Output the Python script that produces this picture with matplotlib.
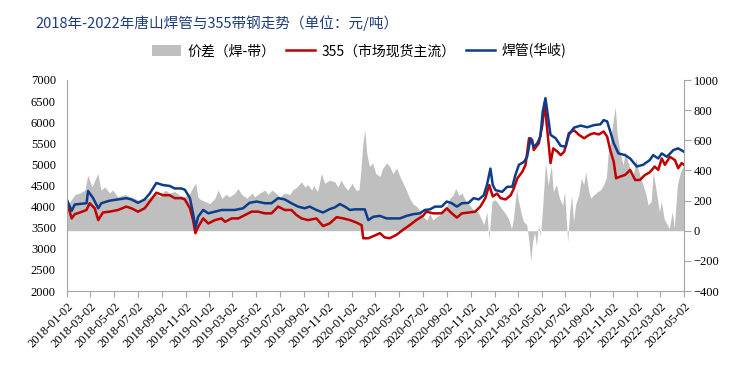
import pandas as pd
import matplotlib
matplotlib.use('Agg')
import matplotlib.pyplot as plt
from matplotlib.lines import Line2D
from matplotlib.patches import Patch

# 焊管(华岐) 价格
blue_dates = ['2018-01-02', '2018-01-14', '2018-01-22', '2018-02-21', '2018-02-25', '2018-03-10', '2018-03-23',
              '2018-03-31', '2018-04-21', '2018-05-13', '2018-06-03', '2018-06-16', '2018-07-03', '2018-07-20',
              '2018-08-02', '2018-08-19', '2018-09-05', '2018-09-22', '2018-10-05', '2018-10-22', '2018-10-31',
              '2018-11-13', '2018-11-21', '2018-11-27', '2018-12-04', '2018-12-17', '2018-12-30', '2019-01-16',
              '2019-02-02', '2019-02-19', '2019-03-08', '2019-03-29', '2019-04-15', '2019-05-03', '2019-05-24',
              '2019-06-10', '2019-06-27', '2019-07-14', '2019-07-31', '2019-08-17', '2019-09-03', '2019-09-16',
              '2019-10-03', '2019-10-20', '2019-11-06', '2019-11-19', '2019-12-02', '2019-12-15', '2019-12-28',
              '2020-01-10', '2020-02-04', '2020-02-13', '2020-02-26', '2020-03-14', '2020-03-31', '2020-04-17',
              '2020-05-04', '2020-05-21', '2020-06-07', '2020-06-24', '2020-07-07', '2020-07-20', '2020-08-02',
              '2020-08-19', '2020-09-01', '2020-09-14', '2020-09-27', '2020-10-10', '2020-10-27', '2020-11-09',
              '2020-11-22', '2020-12-05', '2020-12-13', '2020-12-22', '2020-12-28', '2021-01-04', '2021-01-21',
              '2021-02-03', '2021-02-16', '2021-02-24', '2021-03-05', '2021-03-18', '2021-03-26', '2021-04-04',
              '2021-04-12', '2021-04-21', '2021-04-29', '2021-05-05', '2021-05-12', '2021-05-18', '2021-05-25',
              '2021-06-07', '2021-06-20', '2021-07-03', '2021-07-11', '2021-07-24', '2021-08-10', '2021-08-27',
              '2021-09-13', '2021-09-30', '2021-10-08', '2021-10-17', '2021-10-25', '2021-11-03', '2021-11-15',
              '2021-12-02', '2021-12-15', '2022-01-01', '2022-01-17', '2022-02-03', '2022-02-12', '2022-02-25',
              '2022-03-06', '2022-03-19', '2022-04-05', '2022-04-17', '2022-05-02']
blue_vals = [4160, 3900, 4050, 4080, 4370, 4200, 3960,
             4080, 4140, 4170, 4200, 4170, 4090, 4170,
             4310, 4560, 4510, 4490, 4430, 4430, 4400,
             4200, 3840, 3510, 3760, 3920, 3840, 3880,
             3920, 3920, 3920, 3960, 4090, 4120, 4080,
             4080, 4200, 4170, 4080, 4000, 3960, 4000,
             3920, 3860, 3940, 3980, 4060, 4000, 3920,
             3935, 3935, 3680, 3760, 3780, 3720, 3720,
             3720, 3780, 3820, 3840, 3920, 3935, 4000,
             4000, 4120, 4080, 4000, 4080, 4090, 4200,
             4170, 4270, 4510, 4900, 4510, 4390, 4350,
             4470, 4470, 4750, 4990, 5060, 5180, 5620,
             5420, 5500, 5660, 6250, 6570, 6170, 5700,
             5620, 5440, 5420, 5700, 5870, 5920, 5880,
             5930, 5950, 6050, 6020, 5780, 5500, 5260,
             5220, 5140, 4950, 4990, 5100, 5220, 5140,
             5260, 5180, 5340, 5380, 5300]

# 355（市场现货主流）价格
red_dates = ['2018-01-02', '2018-01-14', '2018-01-22', '2018-02-04', '2018-02-21', '2018-03-01', '2018-03-14',
             '2018-03-23', '2018-04-04', '2018-04-21', '2018-05-13', '2018-06-03', '2018-06-16', '2018-07-03',
             '2018-07-20', '2018-08-02', '2018-08-19', '2018-09-05', '2018-09-22', '2018-10-05', '2018-10-22',
             '2018-10-31', '2018-11-13', '2018-11-21', '2018-11-27', '2018-12-04', '2018-12-17', '2018-12-30',
             '2019-01-16', '2019-02-02', '2019-02-11', '2019-02-28', '2019-03-17', '2019-04-03', '2019-04-20',
             '2019-05-07', '2019-05-24', '2019-06-10', '2019-06-27', '2019-07-14', '2019-07-31', '2019-08-13',
             '2019-08-26', '2019-09-12', '2019-10-03', '2019-10-20', '2019-11-06', '2019-11-24', '2019-12-11',
             '2019-12-28', '2020-01-14', '2020-01-27', '2020-01-31', '2020-02-13', '2020-02-26', '2020-03-14',
             '2020-03-26', '2020-04-08', '2020-04-25', '2020-05-12', '2020-05-29', '2020-06-15', '2020-07-02',
             '2020-07-11', '2020-07-28', '2020-08-19', '2020-09-01', '2020-09-14', '2020-09-27', '2020-10-10',
             '2020-10-27', '2020-11-13', '2020-11-26', '2020-12-09', '2020-12-19', '2020-12-28', '2021-01-08',
             '2021-01-17', '2021-01-30', '2021-02-12', '2021-02-20', '2021-03-01', '2021-03-14', '2021-03-22',
             '2021-03-31', '2021-04-08', '2021-04-12', '2021-04-25', '2021-05-04', '2021-05-10', '2021-05-17',
             '2021-05-25', '2021-06-01', '2021-06-12', '2021-06-20', '2021-06-29', '2021-07-11', '2021-07-24',
             '2021-08-06', '2021-08-19', '2021-09-01', '2021-09-13', '2021-09-26', '2021-10-08', '2021-10-17',
             '2021-10-25', '2021-11-03', '2021-11-09', '2021-11-19', '2021-12-02', '2021-12-15', '2021-12-28',
             '2022-01-09', '2022-01-22', '2022-02-03', '2022-02-16', '2022-02-25', '2022-03-06', '2022-03-14',
             '2022-03-27', '2022-04-09', '2022-04-17', '2022-04-26', '2022-05-02']
red_vals = [4100, 3720, 3820, 3860, 3920, 4080, 3960,
            3680, 3860, 3880, 3920, 4000, 3960, 3880,
            3960, 4120, 4330, 4270, 4270, 4200, 4200,
            4170, 3960, 3680, 3370, 3520, 3720, 3600,
            3680, 3720, 3640, 3720, 3720, 3800, 3880,
            3880, 3840, 3840, 4000, 3920, 3920, 3800,
            3720, 3680, 3720, 3540, 3600, 3750, 3720,
            3680, 3620, 3560, 3250, 3250, 3300, 3370,
            3270, 3250, 3330, 3450, 3560, 3680, 3780,
            3880, 3840, 3840, 3960, 3840, 3740, 3840,
            3860, 3880, 4000, 4200, 4510, 4240, 4310,
            4200, 4170, 4270, 4430, 4670, 4830, 4990,
            5620, 5580, 5340, 5500, 5930, 6450, 5780,
            5030, 5380, 5300, 5220, 5300, 5740, 5810,
            5700, 5620, 5700, 5740, 5710, 5780, 5660,
            5340, 5060, 4670, 4710, 4750, 4870, 4630,
            4630, 4750, 4810, 4950, 4870, 5140, 4990,
            5180, 5100, 4910, 5030, 4990]

# 价差（焊-带），右轴
spread_dates = ['2018-01-02', '2018-01-09', '2018-01-22', '2018-02-04', '2018-02-17', '2018-02-24', '2018-03-07',
                '2018-03-22', '2018-03-30', '2018-04-09', '2018-04-21', '2018-04-29', '2018-05-12', '2018-05-30',
                '2018-06-12', '2018-06-25', '2018-07-08', '2018-07-20', '2018-08-02', '2018-08-15', '2018-08-28',
                '2018-09-10', '2018-09-22', '2018-10-05', '2018-10-18', '2018-10-31', '2018-11-13', '2018-11-21',
                '2018-11-28', '2018-12-03', '2018-12-11', '2018-12-21', '2019-01-03', '2019-01-16', '2019-01-24',
                '2019-02-03', '2019-02-13', '2019-02-23', '2019-03-08', '2019-03-16', '2019-03-26', '2019-04-08',
                '2019-04-21', '2019-04-28', '2019-05-11', '2019-05-24', '2019-06-01', '2019-06-11', '2019-06-21',
                '2019-07-01', '2019-07-14', '2019-07-27', '2019-08-03', '2019-08-14', '2019-08-26', '2019-09-03',
                '2019-09-11', '2019-09-21', '2019-09-26', '2019-10-06', '2019-10-16', '2019-10-24', '2019-11-06',
                '2019-11-19', '2019-11-27', '2019-12-05', '2019-12-15', '2019-12-23', '2020-01-02', '2020-01-12',
                '2020-01-20', '2020-01-25', '2020-01-30', '2020-02-04', '2020-02-09', '2020-02-16', '2020-02-24',
                '2020-03-03', '2020-03-14', '2020-03-21', '2020-03-31', '2020-04-08', '2020-04-16', '2020-04-26',
                '2020-05-04', '2020-05-14', '2020-05-22', '2020-05-29', '2020-06-06', '2020-06-16', '2020-06-24',
                '2020-07-02', '2020-07-12', '2020-07-20', '2020-07-27', '2020-08-07', '2020-08-14', '2020-08-27',
                '2020-09-09', '2020-09-17', '2020-09-24', '2020-10-02', '2020-10-10', '2020-10-20', '2020-10-30',
                '2020-11-09', '2020-11-20', '2020-11-28', '2020-12-05', '2020-12-13', '2020-12-18', '2020-12-26',
                '2021-01-03', '2021-01-11', '2021-01-19', '2021-01-29', '2021-02-06', '2021-02-14', '2021-02-19',
                '2021-02-27', '2021-03-04', '2021-03-12', '2021-03-17', '2021-03-25', '2021-03-30', '2021-04-04',
                '2021-04-09', '2021-04-14', '2021-04-19', '2021-04-24', '2021-04-29', '2021-05-04', '2021-05-12',
                '2021-05-19', '2021-05-27', '2021-06-01', '2021-06-09', '2021-06-17', '2021-06-25', '2021-06-30',
                '2021-07-08', '2021-07-13', '2021-07-18', '2021-07-23', '2021-07-28', '2021-08-05', '2021-08-12',
                '2021-08-18', '2021-08-23', '2021-08-31', '2021-09-05', '2021-09-12', '2021-09-23', '2021-09-30',
                '2021-10-08', '2021-10-15', '2021-10-20', '2021-10-25', '2021-11-02', '2021-11-07', '2021-11-12',
                '2021-11-19', '2021-11-27', '2021-12-02', '2021-12-09', '2021-12-17', '2021-12-22', '2021-12-30',
                '2022-01-04', '2022-01-11', '2022-01-17', '2022-01-25', '2022-01-30', '2022-02-07', '2022-02-12',
                '2022-02-20', '2022-02-28', '2022-03-05', '2022-03-12', '2022-03-20', '2022-03-25', '2022-04-02',
                '2022-04-07', '2022-04-15', '2022-04-23', '2022-05-02']
spread_vals = [150, 190, 240, 250, 270, 370, 290,
               380, 270, 290, 250, 270, 225, 240,
               225, 215, 195, 205, 225, 250, 225,
               270, 250, 260, 235, 225, 250, 290,
               315, 225, 205, 195, 180, 215, 270,
               215, 240, 225, 250, 280, 240, 215,
               250, 225, 250, 270, 240, 270, 250,
               225, 250, 240, 270, 290, 325, 290,
               305, 270, 300, 260, 380, 315, 335,
               325, 290, 335, 290, 270, 315, 270,
               270, 400, 580, 670, 515, 425, 450,
               380, 360, 415, 450, 425, 380, 415,
               360, 305, 260, 215, 180, 160, 135,
               95, 70, 115, 70, 95, 105, 135,
               215, 235, 280, 235, 250, 195, 170,
               135, 125, 80, 40, 125, -60, 195,
               205, 180, 150, 115, 80, 15, 80,
               280, 195, 105, 60, 40, -55, -200,
               -75, -10, -100, 40, -35, 125, 450,
               300, 435, 260, 305, 215, 170, 260,
               -75, 125, 235, 60, 170, 235, 350,
               305, 390, 260, 215, 235, 260, 270,
               305, 350, 525, 570, 745, 820, 635,
               525, 435, 525, 460, 390, 350, 480,
               415, 350, 305, 235, 170, 195, 390,
               260, 125, 195, 80, 40, 15, 125,
               15, 305, 390, 435]

tick_labels = ['2018-01-02', '2018-03-02', '2018-05-02', '2018-07-02', '2018-09-02', '2018-11-02',
               '2019-01-02', '2019-03-02', '2019-05-02', '2019-07-02', '2019-09-02', '2019-11-02',
               '2020-01-02', '2020-03-02', '2020-05-02', '2020-07-02', '2020-09-02', '2020-11-02',
               '2021-01-02', '2021-03-02', '2021-05-02', '2021-07-02', '2021-09-02', '2021-11-02',
               '2022-01-02', '2022-03-02', '2022-05-02']

title = '2018年-2022年唐山焊管与355带钢走势（单位：元/吨）'
legend_labels = ['价差（焊-带）', '355（市场现货主流）', '焊管(华岐)']

# 数字用衬线体，中文另外指定
plt.rcParams['font.family'] = 'serif'
plt.rcParams['font.serif'] = ['Liberation Serif', 'DejaVu Serif']
cjk = ['Noto Sans CJK SC', 'DejaVu Sans']
c_grey = '#BFBFBF'
c_red = '#C00000'
c_blue = '#0D3C8C'
c_axis = '#A6A6A6'

fig = plt.figure(figsize=(7.29, 3.74), dpi=100)
ax = fig.add_axes([67 / 729, 1 - 291 / 374, (684 - 67) / 729, (291 - 80) / 374])
ax2 = ax.twinx()

# 价差面积（右轴）
ax2.fill_between(pd.to_datetime(spread_dates), 0, spread_vals, color=c_grey, lw=0)
ax2.set_ylim(-400, 1000)
ax2.set_yticks(range(-400, 1001, 200))

# 两条价格线（左轴）
ax.plot(pd.to_datetime(red_dates), red_vals, color=c_red, lw=1.8)
ax.plot(pd.to_datetime(blue_dates), blue_vals, color=c_blue, lw=1.8)
ax.set_ylim(2000, 7000)
ax.set_yticks(range(2000, 7001, 500))
ax.set_zorder(ax2.get_zorder() + 1)
ax.patch.set_visible(False)

ticks = pd.to_datetime(tick_labels)
ax.set_xlim(ticks[0], ticks[-1])
ax.set_xticks(ticks)
ax.set_xticklabels(tick_labels, rotation=45, ha='right', rotation_mode='anchor', fontsize=9)

for a in (ax, ax2):
    for s in a.spines.values():
        s.set_color(c_axis)
    a.spines['top'].set_visible(False)
ax.spines['right'].set_visible(False)
ax2.spines['left'].set_visible(False)
ax2.spines['bottom'].set_visible(False)

ax.tick_params(axis='y', length=0, pad=8, labelsize=9)
ax.tick_params(axis='x', length=4, color=c_axis, pad=3)
ax2.tick_params(axis='y', length=5, color=c_axis, pad=2, labelsize=9)

fig.text(35 / 729, 1 - 23 / 374, title, ha='left', va='center', fontsize=10.5,
         color='#1F3D7A', family=cjk)

handles = [Patch(facecolor=c_grey, edgecolor='none'),
           Line2D([], [], color=c_red, lw=1.8),
           Line2D([], [], color=c_blue, lw=1.8)]
fig.legend(handles, legend_labels, loc='center', bbox_to_anchor=(359 / 729, 1 - 51 / 374),
           ncol=3, frameon=False, prop={'family': cjk, 'size': 10},
           handlelength=2.1, handleheight=0.8, handletextpad=0.45, columnspacing=0.75)

fig.savefig('out.png', dpi=100)
